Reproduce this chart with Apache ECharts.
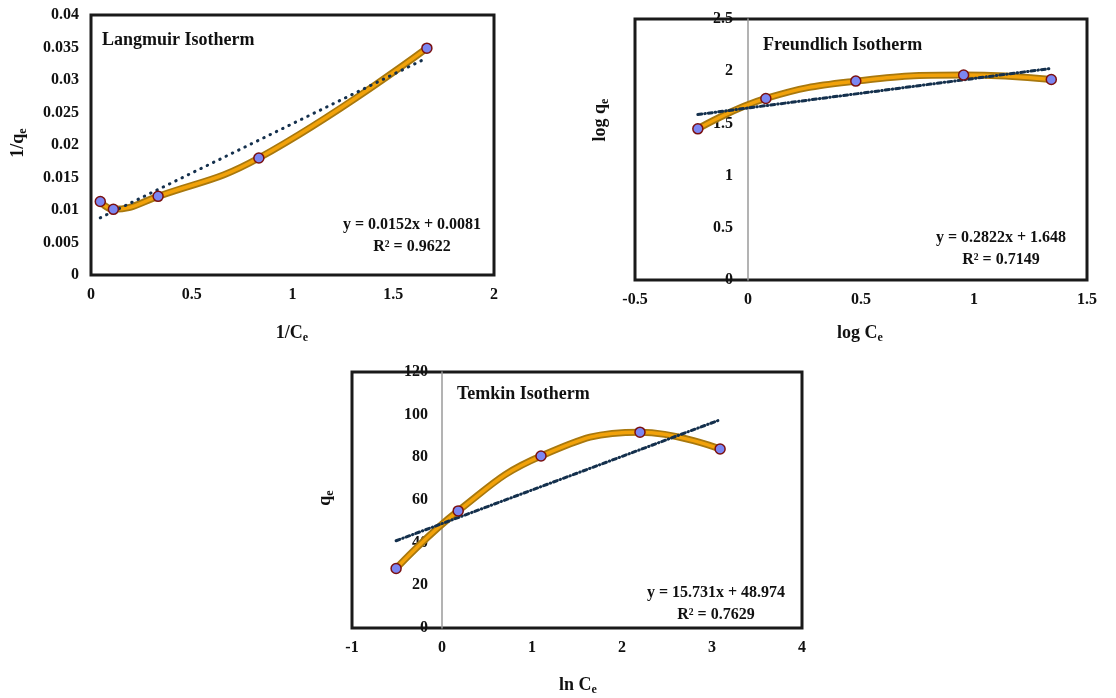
<!DOCTYPE html>
<html lang="en">
<head>
  <meta charset="UTF-8">
  <title>Isotherms</title>
  <style>
    html, body { margin: 0; padding: 0; background: #fff; }
    #main { width: 1116px; height: 698px; }
  </style>
</head>
<body>
  <div id="main"></div>
  <script src="https://cdn.jsdelivr.net/npm/echarts@6/dist/echarts.min.js"></script>
  <script>
    // Langmuir: 1/Ce vs 1/qe
    const langX = [0.046, 0.111, 0.333, 0.833, 1.667]
    const langY = [0.0113, 0.0101, 0.0121, 0.0180, 0.0349]
    const langTrendX = [0.046, 1.667]
    const langTrendY = [0.0088, 0.0334]

    // Freundlich: log Ce vs log qe
    const freuX = [-0.222, 0.079, 0.477, 0.954, 1.342]
    const freuY = [1.448, 1.739, 1.905, 1.963, 1.921]
    const freuTrendX = [-0.222, 1.342]
    const freuTrendY = [1.585, 2.027]

    // Temkin: ln Ce vs qe
    const temX = [-0.51, 0.18, 1.10, 2.20, 3.09]
    const temY = [27.9, 54.9, 80.6, 91.8, 83.9]
    const temTrendX = [-0.51, 3.09]
    const temTrendY = [40.9, 97.6]

    const titles = ['Langmuir Isotherm', 'Freundlich Isotherm', 'Temkin Isotherm']
    const equations = [
      ['y = 0.0152x + 0.0081', 'R² = 0.9622'],
      ['y = 0.2822x + 1.648', 'R² = 0.7149'],
      ['y = 15.731x + 48.974', 'R² = 0.7629']
    ]

    const font = 'Liberation Serif, Times New Roman, serif'
    const pairs = (xs, ys) => xs.map((x, i) => [x, ys[i]])

    const grids = [
      { left: 91, top: 15, width: 403, height: 260 },
      { left: 635, top: 19, width: 452, height: 261 },
      { left: 352, top: 372, width: 450, height: 256 }
    ]
    const xRanges = [[0, 2, 0.5], [-0.5, 1.5, 0.5], [-1, 4, 1]]
    const yRanges = [[0, 0.04, 0.005], [0, 2.5, 0.5], [0, 120, 20]]
    // y labels sit just left of the x = 0 line
    const yLabelMargin = [12, -98, -76]
    const sets = [
      [langX, langY, langTrendX, langTrendY, [0.5, 6.5]],
      [freuX, freuY, freuTrendX, freuTrendY, [4, 3, 0.5, 3]],
      [temX, temY, temTrendX, temTrendY, [4, 3, 0.5, 3]]
    ]

    const label = { fontFamily: font, fontWeight: 'bold', fontSize: 16, color: '#111' }

    const option = {
      animation: false,
      backgroundColor: '#fff',
      grid: grids.map(g => Object.assign({ show: true, borderColor: '#1a1a1a', borderWidth: 3, backgroundColor: '#fff' }, g)),
      xAxis: xRanges.map((r, i) => ({
        type: 'value', gridIndex: i, min: r[0], max: r[1], interval: r[2],
        splitLine: { show: false }, axisTick: { show: false },
        axisLine: { show: false },
        axisLabel: Object.assign({ margin: 12 }, label)
      })),
      yAxis: yRanges.map((r, i) => ({
        type: 'value', gridIndex: i, min: r[0], max: r[1], interval: r[2],
        splitLine: { show: false }, axisTick: { show: false },
        axisLine: { show: i > 0, onZero: true, lineStyle: { color: '#9a9a9a', width: 1.5 } },
        axisLabel: Object.assign({ margin: yLabelMargin[i] }, label)
      })),
      series: [],
      graphic: []
    }

    sets.forEach((s, i) => {
      const curve = pairs(s[0], s[1])
      option.series.push({
        type: 'line', xAxisIndex: i, yAxisIndex: i, data: curve, smooth: 0.45,
        showSymbol: false, lineStyle: { color: '#a8780e', width: 7 }, z: 2
      })
      option.series.push({
        type: 'line', xAxisIndex: i, yAxisIndex: i, data: curve, smooth: 0.45,
        showSymbol: false, lineStyle: { color: '#f2a20a', width: 3.5 }, z: 3
      })
      option.series.push({
        type: 'line', xAxisIndex: i, yAxisIndex: i, data: pairs(s[2], s[3]),
        showSymbol: false,
        lineStyle: { color: '#14304d', width: 3, type: s[4], cap: 'round' }, z: 4
      })
      option.series.push({
        type: 'scatter', xAxisIndex: i, yAxisIndex: i, data: curve, symbolSize: 10,
        itemStyle: { color: '#7b86f2', borderColor: '#7a1010', borderWidth: 1.5, opacity: 1 }, z: 5
      })
    })

    const titlePos = [[102, 42], [763, 47], [457, 396]]
    const eqPos = [[412, 225], [1001, 238], [716, 593]]
    titles.forEach((t, i) => {
      option.graphic.push({
        type: 'text', left: titlePos[i][0], top: titlePos[i][1] - 11, z: 10,
        style: { text: t, fontFamily: font, fontWeight: 'bold', fontSize: 18, fill: '#111' }
      })
      equations[i].forEach((line, k) => {
        option.graphic.push({
          type: 'text', x: eqPos[i][0], y: eqPos[i][1] + k * 22, z: 10,
          style: {
            text: line, fontFamily: font, fontWeight: 'bold', fontSize: 16, fill: '#111',
            align: 'center', verticalAlign: 'middle'
          }
        })
      })
    })

    const rich = {
      m: { fontFamily: font, fontWeight: 'bold', fontSize: 18, fill: '#111', color: '#111' },
      s: { fontFamily: font, fontWeight: 'bold', fontSize: 12, fill: '#111', color: '#111', padding: [10, 0, 0, 0] }
    }
    const axisNames = [
      ['{m|1/C}{s|e}', 292, 333, 0],
      ['{m|1/q}{s|e}', 18, 143, Math.PI / 2],
      ['{m|log C}{s|e}', 860, 333, 0],
      ['{m|log q}{s|e}', 600, 120, Math.PI / 2],
      ['{m|ln C}{s|e}', 578, 685, 0],
      ['{m|q}{s|e}', 325, 498, Math.PI / 2]
    ]
    axisNames.forEach(a => {
      option.graphic.push({
        type: 'text', x: a[1], y: a[2], rotation: a[3], z: 10,
        style: { text: a[0], rich: rich, align: 'center', verticalAlign: 'middle' }
      })
    })

    const myChart = echarts.init(document.getElementById('main'))
    myChart.setOption(option)
  </script>
</body>
</html>
